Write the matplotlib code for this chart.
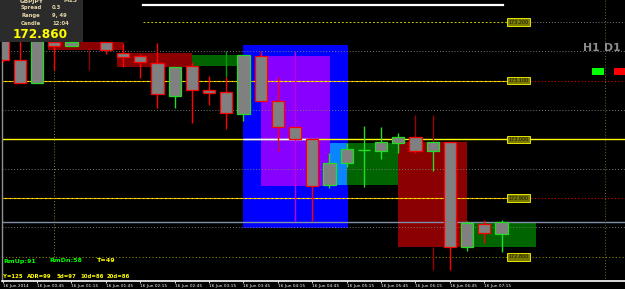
import matplotlib
matplotlib.use("Agg")
import matplotlib.pyplot as plt
from matplotlib.patches import Rectangle
import numpy as np

nan = np.nan

# GBPJPY M15, 16 Jun 2014, first bar 00:15 (bar 5 hidden)
opens = [173.173, 173.135, 173.096, 173.166, 173.159, nan, 173.166, 173.148, 173.142, 173.130,
         173.074, 173.125, 173.084, 173.081, 173.043, 173.142, 173.065, 173.021, 173.001, 172.922,
         172.960, 172.982, 172.980, 172.994, 173.004, 172.980, 172.996, 172.817, 172.856, 172.839]
highs = [173.178, 173.168, 173.170, 173.168, 173.166, nan, 173.166, 173.164, 173.145, 173.164,
         173.123, 173.132, 173.108, 173.106, 173.144, 173.151, 173.106, 173.151, 173.001, 172.977,
         172.994, 173.023, 173.021, 173.011, 173.004, 172.996, 172.996, 172.861, 172.863, 172.863]
lows = [173.132, 173.096, 173.096, 173.118, 173.159, nan, 173.145, 173.123, 173.105, 173.053,
        173.053, 173.028, 173.059, 173.018, 173.031, 173.065, 172.980, 172.861, 172.861, 172.917,
        172.953, 172.919, 172.967, 172.977, 172.977, 172.946, 172.778, 172.810, 172.824, 172.808]
closes = [173.135, 173.096, 173.168, 173.159, 173.166, nan, 173.152, 173.140, 173.132, 173.077,
          173.123, 173.084, 173.079, 173.045, 173.144, 173.065, 173.021, 173.001, 172.921, 172.960,
          172.984, 172.982, 172.996, 173.004, 172.980, 172.996, 172.817, 172.858, 172.841, 172.860]

tick_labels = ['16 Jun 2014', '16 Jun 00:45', '16 Jun 01:15', '16 Jun 01:45', '16 Jun 02:15',
               '16 Jun 02:45', '16 Jun 03:15', '16 Jun 03:45', '16 Jun 04:15', '16 Jun 04:45',
               '16 Jun 05:15', '16 Jun 05:45', '16 Jun 06:15', '16 Jun 06:45', '16 Jun 07:15']

# boxes (start bar, end bar, low, high)
zone_x0 = [2.63, 6.65, 11.0, 13.97, 15.02, 19.03, 20.02, 22.98, 26.99]
zone_x1 = [6.99, 11.0, 13.68, 20.08, 19.03, 20.02, 22.98, 26.99, 31.0]
zone_lo = [173.152, 173.123, 173.125, 172.849, 172.921, 172.922, 172.922, 172.817, 172.817]
zone_hi = [173.166, 173.147, 173.144, 173.161, 173.142, 172.994, 172.994, 172.996, 172.860]
zone_colors = ['#8b0000', '#8b0000', '#006400', '#0000ff', '#8800ff', '#0a84ff', '#006400',
               '#8b0000', '#006400']

# higher timeframe wicks (bar, top, bottom)
h1_wick_x = [5, 13, 24, 25, 25]
h1_wick_top = [173.166, 173.151, 173.042, 173.042, 172.817]
h1_wick_bot = [173.118, 173.106, 173.004, 172.996, 172.778]
h1_wick_colors = ['#8b0000', '#00a000', '#a00000', '#a00000', '#a00000']

levels = [173.200, 173.100, 173.000, 172.900, 172.800]
level_labels = ['173.200', '173.100', '173.000', '172.900', '172.800']
grid_levels = [173.150, 173.050, 172.950, 172.850]
bid = 172.860

BULL = '#22dd22'
BEAR = '#ff0000'
X0, X1 = -0.04, 36.18
Y0, Y1 = 172.7588, 173.2375

fig = plt.figure(figsize=(6.25, 2.89), dpi=100, facecolor='black')
ax = fig.add_axes([2 / 625, 8 / 289, 623 / 625, 281 / 289])
ax.set_facecolor('black')

for x0, x1, lo, hi, c in zip(zone_x0, zone_x1, zone_lo, zone_hi, zone_colors):
    ax.add_patch(Rectangle((x0, lo), x1 - x0, hi - lo, facecolor=c, edgecolor='none', zorder=1))

# horizontal levels
for g in grid_levels:
    ax.hlines(g, X0, X1, color='#7a7a7a', lw=0.7, linestyle=(0, (1, 2)), zorder=2)
ax.hlines(bid, X0, X1, color='#8090a8', lw=1.0, zorder=2)
ax.hlines(173.200, 8.16, 29.3, color='#c8c800', lw=0.7, linestyle=(0, (2, 2)), zorder=2)
ax.hlines(173.200, 30.7, X1, color='#7a7a7a', lw=0.7, linestyle=(0, (1, 2)), zorder=2)
for lv in (173.100, 172.900):
    ax.hlines(lv, X0, 29.3, color='#ff9900', lw=0.8, linestyle=(0, (2, 2)), zorder=2)
    ax.hlines(lv, X0, 29.3, color='#ffff00', lw=0.8, linestyle=(2, (2, 2)), zorder=2)
    ax.hlines(lv, 30.7, X1, color='#dd0000', lw=0.8, linestyle=(0, (1, 2)), zorder=2)
ax.hlines(173.000, X0, X1, color='#ffff00', lw=1.0, zorder=2)
ax.hlines(173.000, 14.0, 17.7, color='white', lw=1.0, zorder=2)
ax.hlines(172.800, X0, X1, color='#8a8a00', lw=0.8, linestyle=(0, (1, 2)), zorder=2)

# vertical separators
ax.vlines(3.0, 172.800, Y1, color='#8a8a00', lw=0.7, linestyle=(0, (1, 2)), zorder=2)
ax.vlines(35.02, Y0, Y1, color='#6a6a30', lw=0.7, linestyle=(0, (1, 2)), zorder=2)

for x, t, b, c in zip(h1_wick_x, h1_wick_top, h1_wick_bot, h1_wick_colors):
    ax.vlines(x, b, t, color=c, lw=1.0, zorder=3)

# candles
for i, (o, h, l, c) in enumerate(zip(opens, highs, lows, closes)):
    if np.isnan(o):
        continue
    col = BULL if c >= o else BEAR
    wick_col = '#c000e0' if i == 17 else col
    ax.vlines(i, l, h, color=wick_col, lw=1.0, zorder=3)
    if abs(c - o) < 0.0005:
        ax.hlines(o, i - 0.37, i + 0.37, color=col, lw=1.0, zorder=4)
    else:
        ax.bar(i, abs(c - o), bottom=min(o, c), width=0.72, color='#808080',
               edgecolor=col, linewidth=0.9, zorder=4)

for lv, lab in zip(levels, level_labels):
    ax.text(30.0, lv, lab, fontsize=3.5, color='#111100', ha='center', va='center', zorder=6,
            bbox=dict(boxstyle='square,pad=0.25', facecolor='#7a7a00', edgecolor='#ffff00', lw=0.6))

ax.text(16.0, 172.988, '\u21e9', fontsize=6, color='#3030ff', ha='center', va='center', zorder=6)

ax.set_xlim(X0, X1)
ax.set_ylim(Y0, Y1)
ax.set_xticks(range(0, 30, 2))
ax.set_xticklabels(tick_labels, fontsize=3.1, color='white', ha='left')
ax.tick_params(axis='x', length=1.5, width=0.6, color='white', pad=0.6)
ax.set_yticks([])
for s in ('top', 'right'):
    ax.spines[s].set_visible(False)
ax.spines['bottom'].set_color('white')
ax.spines['bottom'].set_linewidth(1.2)
ax.spines['left'].set_color('#909090')
ax.spines['left'].set_linewidth(1.0)

# info panel
def fx(px):
    return px / 625

def fy(py):
    return 1 - py / 289

fig.add_artist(Rectangle((0, fy(42)), fx(83), 42 / 289, transform=fig.transFigure,
                         facecolor='#2b2b2b', edgecolor='none', zorder=10))
panel_col = '#e6d8a8'
fig.text(fx(20), fy(1), 'GBPJPY', fontsize=4.2, weight='bold', color=panel_col, va='center', zorder=11)
fig.text(fx(63), fy(1), 'M15', fontsize=4.2, weight='bold', color=panel_col, va='center', zorder=11)
for yy, k, v in ((7.5, 'Spread', '0.3'), (15.5, 'Range', '9, 49'), (23.5, 'Candle', '12:04')):
    fig.text(fx(21), fy(yy), k, fontsize=3.8, weight='bold', color=panel_col, va='center', zorder=11)
    fig.text(fx(52), fy(yy), v, fontsize=3.8, weight='bold', color=panel_col, va='center', zorder=11)
fig.text(fx(13), fy(35), '172.860', fontsize=8.7, weight='bold', color='#ffff00', va='center', zorder=11)

fig.text(fx(583), fy(48), 'H1', fontsize=7.8, weight='bold', color='#8c8c8c', va='center', zorder=11)
fig.text(fx(604), fy(48), 'D1', fontsize=7.8, weight='bold', color='#8c8c8c', va='center', zorder=11)
fig.add_artist(Rectangle((fx(592), fy(75)), fx(12), 7 / 289, transform=fig.transFigure,
                         facecolor='#00ff00', edgecolor='none', zorder=11))
fig.add_artist(Rectangle((fx(614), fy(75)), fx(11), 7 / 289, transform=fig.transFigure,
                         facecolor='#ff0000', edgecolor='none', zorder=11))
fig.add_artist(plt.Line2D([fx(143), fx(503)], [fy(4.5), fy(4.5)], transform=fig.transFigure,
                          color='white', lw=1.6, zorder=11))

# range stats
fig.text(fx(3), fy(261), 'RmUp:91', fontsize=4.6, weight='bold', color='#00ff00', va='center', zorder=11)
fig.text(fx(49), fy(261), 'RmDn:58', fontsize=4.6, weight='bold', color='#00ff00', va='center', zorder=11)
fig.text(fx(97), fy(261), 'T=49', fontsize=4.6, weight='bold', color='#ffff00', va='center', zorder=11)
for xx, s in ((3, 'Y=125'), (27, 'ADR=99'), (57, '5d=97'), (80, '10d=86'), (107, '20d=86')):
    fig.text(fx(xx), fy(276), s, fontsize=3.9, weight='bold', color='#ffff00', va='center', zorder=11)

fig.savefig('out.png', dpi=100, facecolor='black')
